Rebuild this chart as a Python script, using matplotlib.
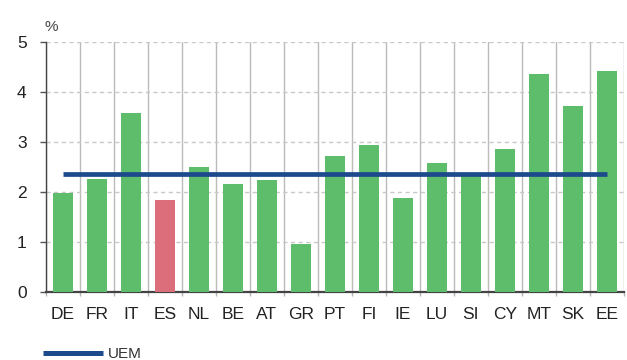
import numpy as np
import matplotlib.pyplot as plt
from matplotlib.lines import Line2D

plt.rcParams['font.family'] = ['Liberation Sans', 'DejaVu Sans']

countries = ['DE', 'FR', 'IT', 'ES', 'NL', 'BE', 'AT', 'GR', 'PT', 'FI',
             'IE', 'LU', 'SI', 'CY', 'MT', 'SK', 'EE']
values = [1.98, 2.25, 3.57, 1.83, 2.49, 2.15, 2.23, 0.96, 2.71, 2.93,
          1.87, 2.58, 2.32, 2.85, 4.35, 3.71, 4.41]
uem = 2.36

green = '#5dbd6b'
red = '#dc6e7b'
blue = '#1c4a8c'
colors = [red if c == 'ES' else green for c in countries]

fig = plt.figure(figsize=(6.27, 3.6), dpi=100)
ax = fig.add_axes([0.0734, 0.19, 0.9216, 0.6933])

x = np.arange(len(countries))
ax.bar(x, values, width=0.6, color=colors, linewidth=0, zorder=3)
ax.plot([x[0], x[-1]], [uem, uem], color=blue, linewidth=3.4, zorder=4,
        solid_capstyle='butt')

ax.set_xlim(-0.5, len(countries) - 0.5)
ax.set_ylim(0, 5)
ax.set_yticks(range(6))
ax.set_xticks(x)
ax.set_xticklabels(countries)
ax.tick_params(axis='x', length=0, pad=11, labelsize=12.5, colors='#222222')
ax.tick_params(axis='y', length=4, width=1, pad=10, labelsize=12.5,
               colors='#555555', labelcolor='#222222')

# category separators
ax.set_xticks(np.arange(-0.5, len(countries)), minor=True)
ax.tick_params(axis='x', which='minor', length=3, color='#b5b5b5', width=1)
ax.grid(axis='x', which='minor', color='#bbbbbb', linewidth=1, zorder=0)
ax.grid(axis='y', which='major', color='#c8c8c8', linestyle=(0, (3, 2.5)),
        linewidth=1, zorder=0)

for s in ['top', 'right']:
    ax.spines[s].set_visible(False)
ax.spines['left'].set_color('#444444')
ax.spines['left'].set_linewidth(1)
ax.spines['bottom'].set_color('#444444')
ax.spines['bottom'].set_linewidth(1.6)

fig.text(0.071, 0.915, '%', fontsize=11, color='#444444')

handle = Line2D([], [], color=blue, linewidth=3.6, solid_capstyle='butt')
fig.legend(handles=[handle], labels=['UEM'], loc='lower left',
           bbox_to_anchor=(0.047, -0.042), frameon=False, handlelength=3.9,
           handletextpad=0.3,
           prop={'family': ['Liberation Sans Narrow', 'Liberation Sans'],
                 'size': 11},
           labelcolor='#333333')

fig.savefig('out.png', dpi=100)
